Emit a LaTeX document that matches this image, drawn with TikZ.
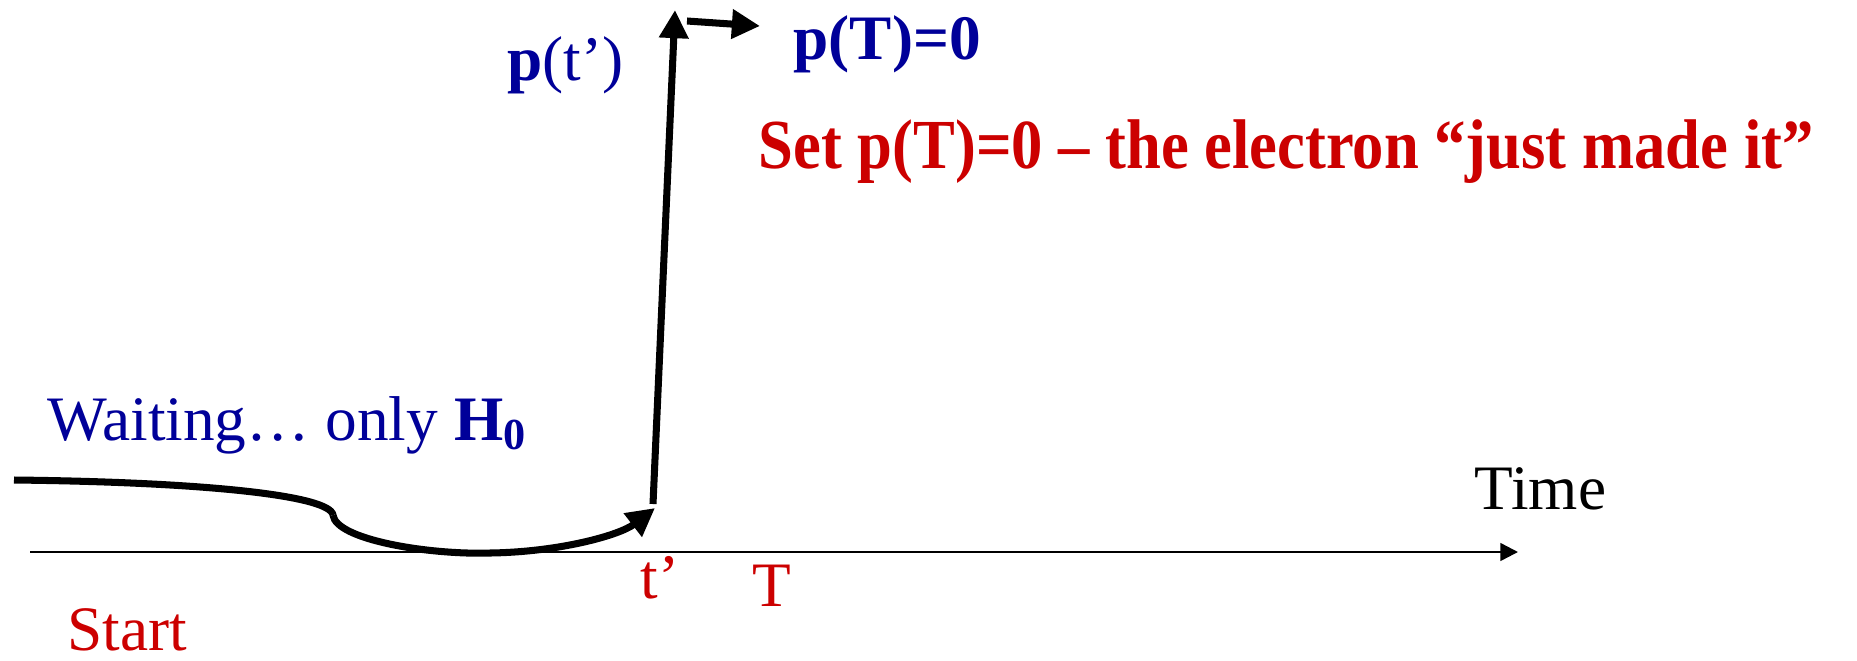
\documentclass[tikz,border=0pt]{standalone}
\usepackage{fontspec}
\setmainfont{Liberation Serif}
\usetikzlibrary{arrows.meta}
\definecolor{navy}{RGB}{0,0,153}
\definecolor{crimson}{RGB}{204,0,0}

\begin{document}
\begin{tikzpicture}[
        x=0.01cm, y=-0.01cm,
        lbl/.style={anchor=base west, inner sep=0pt, font=\fontsize{18}{21}\selectfont},
        axis/.style={-{Triangle[length=5pt, width=5pt]}, line width=0.7pt},
        path/.style={-{Triangle[length=8pt, width=8pt]}, line width=2pt}
    ]
    \useasboundingbox (0,0) rectangle (1857,660);

    % labels
    \node (wait) [lbl, text=navy] at (47,440) {Waiting\ldots\ only \textbf{H\textsubscript{0}}};
    \node (time) [lbl] at (1474,509) {Time};
    \node (start) [lbl, text=crimson] at (67,650) {Start};
    \node (tp) [lbl, text=crimson] at (640,598) {t’};
    \node (tT) [lbl, text=crimson] at (752,606) {T};
    \node (ptp) [lbl, text=navy] at (507,80) {\textbf{p}(t’)};
    \node (pT) [lbl, text=navy] at (793,59) {\textbf{p(T)=0}};
    \node (note) [lbl, text=crimson, font=\fontsize{20}{24}\selectfont\bfseries] at (758,168)
        {\scalebox{0.89}[1]{Set p(T)=0 -- the electron “just made it”}};

    % axis
    \coordinate (a0) at (30,552);
    \coordinate (a1) at (1518,552);
    \draw [axis] (a0) -- (a1);

    % trajectory
    \coordinate (s0) at (14,480);
    \coordinate (kink) at (333,515);
    \coordinate (low) at (490,553);
    \coordinate (jump) at (655,508);
    \coordinate (j0) at (653,504);
    \coordinate (top) at (675,10);
    \coordinate (r0) at (687,21);
    \coordinate (r1) at (760,26);
    \draw [line width=2pt] (s0) .. controls (200,482) and (330,495) .. (kink);
    \draw [path] (kink) .. controls (336,540) and (430,555) .. (low)
        .. controls (560,552) and (620,535) .. (jump);
    \draw [path] (j0) -- (top);
    \draw [path] (r0) -- (r1);
\end{tikzpicture}
\end{document}
